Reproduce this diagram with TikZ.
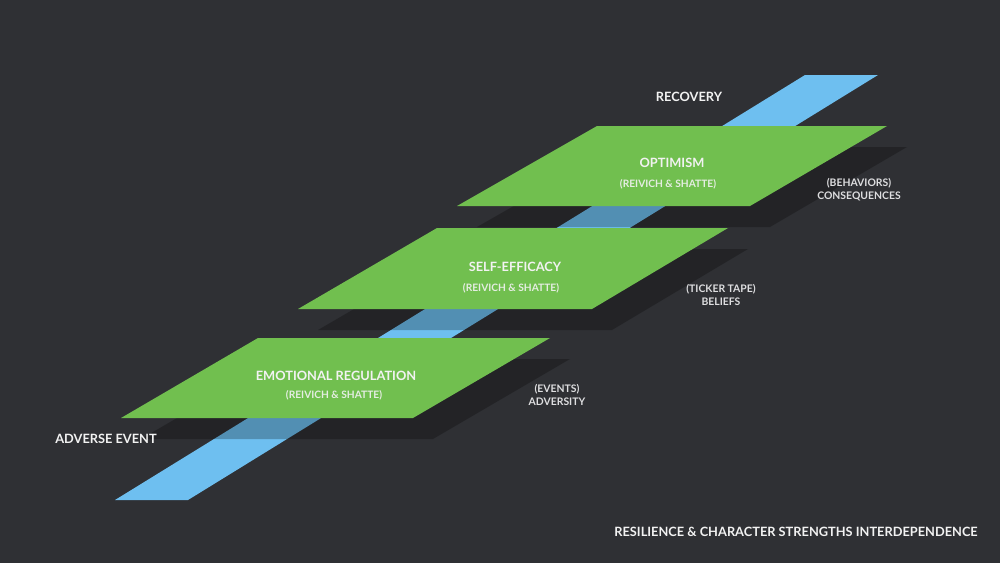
\documentclass[tikz,border=0pt]{standalone}
\usepackage{fontspec}
\setmainfont{Lato}
\usetikzlibrary{positioning}
\definecolor{bgColor}{RGB}{47,48,52}
\definecolor{planeColor}{RGB}{113,191,79}
\definecolor{stripColor}{RGB}{110,191,240}
\definecolor{textColor}{RGB}{242,242,242}
\definecolor{sideColor}{RGB}{222,222,224}
\newcommand{\titlefont}{\fontsize{6.4}{7.5}\selectfont\bfseries}
\newcommand{\subfont}{\fontsize{5.1}{6}\selectfont\bfseries}
\newcommand{\sidefont}{\fontsize{5.2}{6.5}\selectfont\bfseries}

\begin{document}
\begin{tikzpicture}[x=0.5pt, y=-0.5pt,
    strip/.style={fill=stripColor},
    plane/.style={fill=planeColor},
    planeshadow/.style={fill=black, fill opacity=0.25},
    title/.style={text=textColor, font=\titlefont, inner sep=0pt},
    sub/.style={text=textColor!90!planeColor, font=\subfont, inner sep=0pt},
    side/.style={text=sideColor, font=\sidefont, align=center, inner sep=0pt},
    node distance=5.6pt
  ]
  \fill[bgColor] (0,0) rectangle (1000,563);
  \useasboundingbox (0,0) rectangle (1000,563);

  % recovery path
  \fill[strip] (115,500) -- (188,500) -- (878,75) -- (805,75) -- cycle;

  % emotional regulation plane
  \fill[planeshadow] (278,359) -- (570,359) -- (433,439) -- (141,439) -- cycle;
  \fill[plane] (258,338) -- (550,338) -- (413,418) -- (121,418) -- cycle;
  % self-efficacy plane
  \fill[planeshadow] (457,249) -- (748,249) -- (612,330) -- (318,330) -- cycle;
  \fill[plane] (437,228) -- (728,228) -- (592,309) -- (298,309) -- cycle;
  % optimism plane
  \fill[planeshadow] (617,147) -- (907,147) -- (770,227) -- (477,227) -- cycle;
  \fill[plane] (597,126) -- (887,126) -- (750,206) -- (457,206) -- cycle;

  \node[title] (emoTitle) at (336,376) {EMOTIONAL REGULATION};
  \node[sub, below=of emoTitle, xshift=-1pt, yshift=1pt] (emoSub) {(REIVICH \& SHATTE)};
  \node[title] (effTitle) at (515,267) {SELF-EFFICACY};
  \node[sub, below=of effTitle, xshift=-2pt] (effSub) {(REIVICH \& SHATTE)};
  \node[title] (optTitle) at (672,163) {OPTIMISM};
  \node[sub, below=of optTitle, xshift=-2pt] (optSub) {(REIVICH \& SHATTE)};

  \node[side] (adversity) at (557,395) {(EVENTS)\\ADVERSITY};
  \node[side] (beliefs) at (721,295) {(TICKER TAPE)\\BELIEFS};
  \node[side] (consequences) at (859,190) {(BEHAVIORS)\\CONSEQUENCES};

  \node[title] (recovery) at (689,97) {RECOVERY};
  \node[title] (adverse) at (106,439) {ADVERSE EVENT};
  \node[title] (caption) at (796,532) {RESILIENCE \& CHARACTER STRENGTHS INTERDEPENDENCE};
\end{tikzpicture}
\end{document}
